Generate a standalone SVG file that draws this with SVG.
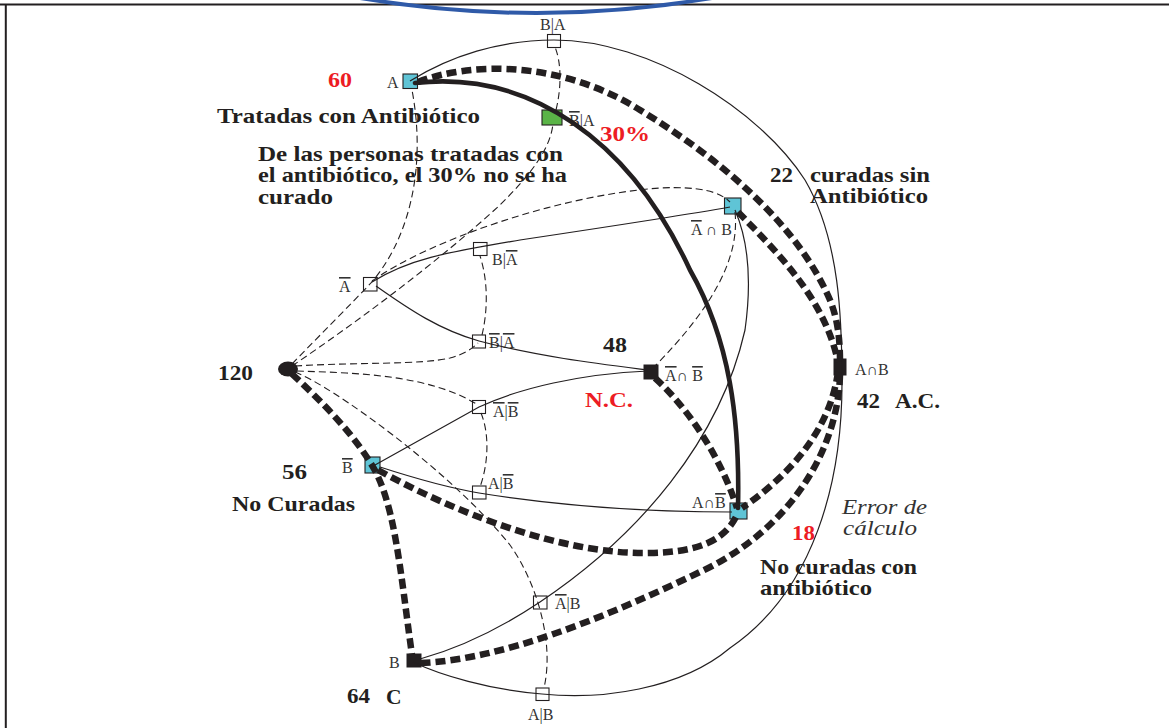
<svg xmlns="http://www.w3.org/2000/svg" width="1169" height="728" viewBox="0 0 1169 728">
<defs>
<style>
.thin{fill:none;stroke:#231f20;stroke-width:1.2}
.dash{fill:none;stroke:#231f20;stroke-width:1.1;stroke-dasharray:7 4}
.thick{fill:none;stroke:#231f20;stroke-width:4.6;stroke-linecap:round}
.tdash{fill:none;stroke:#231f20;stroke-width:6.5;stroke-dasharray:10 5}
.wbox{fill:#fff;stroke:#231f20;stroke-width:1.1}
.cbox{fill:#5fc4d6;stroke:#231f20;stroke-width:1.1}
.gbox{fill:#5ab447;stroke:#231f20;stroke-width:1.1}
.kbox{fill:#231f20;stroke:#231f20;stroke-width:1}
.lbl{font-family:"Liberation Serif","Times New Roman",serif;font-size:16px;fill:#333}
.big{font-family:"Liberation Serif","Times New Roman",serif;font-size:21.5px;font-weight:bold;fill:#231f20}
.red{font-family:"Liberation Serif","Times New Roman",serif;font-size:21.5px;font-weight:bold;fill:#ed1c24}
.ital{font-family:"Liberation Serif","Times New Roman",serif;font-size:20px;font-style:italic;fill:#333}
.ov{text-decoration:overline}
</style>
</defs>
<rect width="1169" height="728" fill="#fff"/>
<g id="frame">
<line x1="0" y1="4.5" x2="1169" y2="4.5" stroke="#231f20" stroke-width="2.2"/>
<line x1="5.8" y1="4" x2="5.8" y2="728" stroke="#231f20" stroke-width="2"/>
<path d="M 360 -2 Q 537 28 712 -2" fill="none" stroke="#2f5aa8" stroke-width="4"/>
</g>

<g id="n-root"><ellipse cx="288" cy="369" rx="10" ry="7.5" fill="#231f20"/><text class="big" x="218" y="380" textLength="35" lengthAdjust="spacingAndGlyphs">120</text></g>
<g id="n-A"><rect class="cbox" x="403" y="74" width="14.5" height="14.5"/><text class="lbl" x="387" y="88">A</text><text class="red" x="328" y="87" textLength="24" lengthAdjust="spacingAndGlyphs">60</text></g>
<g id="n-BgA"><rect class="wbox" x="547.5" y="34.5" width="13" height="13"/><text class="lbl" x="540" y="30">B|A</text></g>
<g id="n-nBgA"><rect class="gbox" x="542" y="110" width="20" height="15"/><text class="lbl" x="569" y="126"><tspan class="ov">B</tspan>|A</text><text class="red" x="600" y="141" textLength="50" lengthAdjust="spacingAndGlyphs">30%</text></g>
<g id="n-nA"><rect class="wbox" x="363.5" y="277.5" width="13.5" height="13.5"/><text class="lbl" x="339" y="292"><tspan class="ov">A</tspan></text></g>
<g id="n-BgnA"><rect class="wbox" x="473.5" y="242.5" width="13.5" height="13"/><text class="lbl" x="492" y="265">B|<tspan class="ov">A</tspan></text></g>
<g id="n-nBgnA"><rect class="wbox" x="472.5" y="335" width="13" height="13"/><text class="lbl" x="489" y="348"><tspan class="ov">B</tspan>|<tspan class="ov">A</tspan></text></g>
<g id="n-nAgnB"><rect class="wbox" x="472.5" y="400.5" width="13" height="13"/><text class="lbl" x="493" y="417"><tspan class="ov">A</tspan>|<tspan class="ov">B</tspan></text></g>
<g id="n-AgnB"><rect class="wbox" x="472.5" y="486" width="13.5" height="13"/><text class="lbl" x="488" y="489">A|<tspan class="ov">B</tspan></text></g>
<g id="n-nAgB"><rect class="wbox" x="533.5" y="596" width="13.5" height="13"/><text class="lbl" x="555" y="609"><tspan class="ov">A</tspan>|B</text></g>
<g id="n-AgB"><rect class="wbox" x="536" y="688" width="13" height="12.5"/><text class="lbl" x="528" y="720">A|B</text></g>
<g id="n-nB"><rect class="cbox" x="365" y="457" width="15" height="16"/><text class="lbl" x="342" y="473"><tspan class="ov">B</tspan></text><text class="big" x="282" y="479" textLength="25" lengthAdjust="spacingAndGlyphs">56</text><text class="big" x="232" y="511" textLength="123" lengthAdjust="spacingAndGlyphs">No Curadas</text></g>
<g id="n-B"><rect class="kbox" x="407" y="654" width="14" height="13"/><text class="lbl" x="389" y="668">B</text><text class="big" x="347" y="703" textLength="23" lengthAdjust="spacingAndGlyphs">64</text><text class="big" x="386" y="704">C</text></g>
<g id="n-nAB"><rect class="cbox" x="724.5" y="198" width="16.5" height="16"/><text class="lbl" x="691" y="235"><tspan class="ov">A</tspan> ∩ B</text><text class="big" x="770" y="182" textLength="23" lengthAdjust="spacingAndGlyphs">22</text><text class="big" x="810" y="182" textLength="120" lengthAdjust="spacingAndGlyphs">curadas sin</text><text class="big" x="810" y="203" textLength="118" lengthAdjust="spacingAndGlyphs">Antibiótico</text></g>
<g id="n-nAnB"><rect class="kbox" x="644" y="365" width="14" height="14"/><text class="lbl" x="665" y="381"><tspan class="ov">A</tspan>∩ <tspan class="ov">B</tspan></text><text class="big" x="603" y="352" textLength="24" lengthAdjust="spacingAndGlyphs">48</text><text class="red" x="585" y="407" textLength="48" lengthAdjust="spacingAndGlyphs">N.C.</text></g>
<g id="n-AB"><rect class="kbox" x="834" y="359" width="12" height="16"/><text class="lbl" x="855" y="375">A∩B</text><text class="big" x="857" y="408" textLength="23" lengthAdjust="spacingAndGlyphs">42</text><text class="big" x="895" y="408" textLength="45" lengthAdjust="spacingAndGlyphs">A.C.</text></g>
<g id="n-AnB"><rect class="cbox" x="730" y="503" width="17" height="16"/><text class="lbl" x="692" y="508">A∩<tspan class="ov">B</tspan></text><text class="red" x="792" y="540" textLength="23" lengthAdjust="spacingAndGlyphs">18</text><text class="big" x="760" y="574" textLength="157" lengthAdjust="spacingAndGlyphs">No curadas con</text><text class="big" x="760" y="595" textLength="112" lengthAdjust="spacingAndGlyphs">antibiótico</text></g>
<g id="notes">
<text class="big" x="217" y="123" textLength="263" lengthAdjust="spacingAndGlyphs">Tratadas con Antibiótico</text>
<text class="big" x="258" y="161" textLength="305" lengthAdjust="spacingAndGlyphs">De las personas tratadas con</text>
<text class="big" x="258" y="182" textLength="309" lengthAdjust="spacingAndGlyphs">el antibiótico, el 30% no se ha</text>
<text class="big" x="258" y="204" textLength="75" lengthAdjust="spacingAndGlyphs">curado</text>
<text class="ital" x="842" y="514" textLength="85" lengthAdjust="spacingAndGlyphs">Error de</text>
<text class="ital" x="843" y="535" textLength="74" lengthAdjust="spacingAndGlyphs">cálculo</text>
</g>

<g id="connectors">
<path class="thin" d="M 410 81 C 450 56, 500 40, 554 40 C 650 40, 760 110, 805 180 C 840 240, 842 320, 842 383 C 842 480, 815 590, 730 648 C 680 690, 600 700, 542 694 C 490 690, 440 675, 413 662"/>
<path class="thin" d="M 372 282 C 410 258, 450 252, 520 240 C 600 228, 680 216, 730 207"/>
<path class="thin" d="M 376 286 C 410 310, 440 330, 479 341 C 540 357, 600 364, 648 370"/>
<path class="thin" d="M 648 371 C 580 374, 520 388, 479 407 L 375 465"/>
<path class="thin" d="M 380 467 C 420 480, 450 488, 479 493 C 560 506, 650 512, 732 512"/>
<path class="thin" d="M 420 659 C 470 645, 510 622, 540 602 C 640 535, 720 440, 745 330 C 752 280, 748 240, 735 210"/>
<path class="dash" d="M 292 364 C 320 335, 350 305, 370 284 C 405 245, 428 175, 412 90"/>
<path class="dash" d="M 292 366 C 360 320, 440 260, 500 205 C 530 175, 550 150, 553 124"/>
<path class="dash" d="M 556 110 C 562 85, 561 62, 555 47"/>
<path class="dash" d="M 372 281 C 430 240, 560 195, 660 188 C 700 186, 720 192, 730 202"/>
<path class="dash" d="M 735 212 C 740 260, 710 310, 655 366"/>
<path class="dash" d="M 295 366 C 360 362, 420 365, 450 358 C 465 354, 473 348, 478 343"/>
<path class="dash" d="M 482 335 C 488 310, 488 280, 480 256"/>
<path class="dash" d="M 297 371 C 360 373, 430 375, 478 405"/>
<path class="dash" d="M 481 413 C 490 435, 488 465, 480 487"/>
<path class="dash" d="M 295 372 C 330 385, 450 470, 510 545 C 535 580, 555 640, 544 688"/>
<path class="thick" d="M 415 83 C 530 70, 630 140, 690 270 C 730 340, 740 420, 738 508"/>
<path class="tdash" d="M 418 82 C 470 62, 560 60, 640 110 C 730 165, 800 230, 830 300 C 838 320, 840 340, 840 362"/>
<path class="tdash" d="M 738 212 C 780 255, 825 300, 838 362"/>
<path class="tdash" d="M 838 372 C 830 430, 790 475, 742 508"/>
<path class="tdash" d="M 840 375 C 838 450, 790 530, 700 572 C 600 620, 500 660, 420 663"/>
<path class="tdash" d="M 378 470 C 450 510, 560 555, 650 553 C 700 552, 725 540, 737 515"/>
<path class="tdash" d="M 655 378 C 690 410, 722 460, 737 508"/>
<path class="tdash" d="M 292 374 C 320 400, 350 430, 370 462 C 395 500, 400 570, 412 655"/>
</g>
</svg>
